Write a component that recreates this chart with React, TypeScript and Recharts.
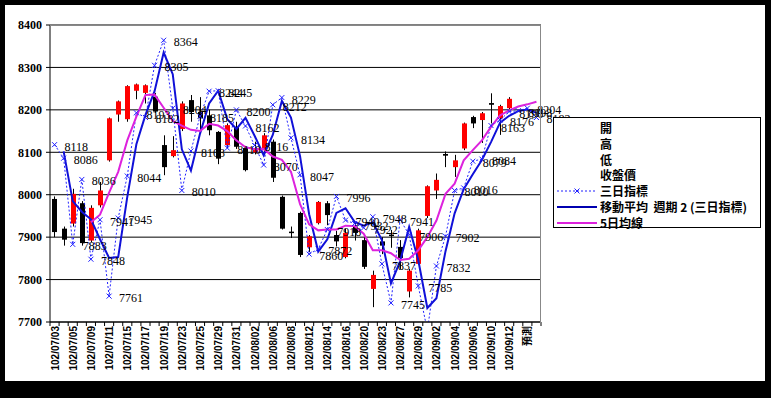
import React from 'react';
import { ComposedChart, Bar, Line, XAxis, YAxis, CartesianGrid, LabelList } from 'recharts';

const dates = [
  '102/07/03', '102/07/04', '102/07/05', '102/07/08', '102/07/09', '102/07/10', '102/07/11', '102/07/12',
  '102/07/15', '102/07/16', '102/07/17', '102/07/18', '102/07/19', '102/07/22', '102/07/23', '102/07/24',
  '102/07/25', '102/07/26', '102/07/29', '102/07/30', '102/07/31', '102/08/01', '102/08/02', '102/08/05',
  '102/08/06', '102/08/07', '102/08/08', '102/08/09', '102/08/12', '102/08/13', '102/08/14', '102/08/15',
  '102/08/16', '102/08/19', '102/08/20', '102/08/22', '102/08/23', '102/08/26', '102/08/27', '102/08/28',
  '102/08/29', '102/08/30', '102/09/02', '102/09/03', '102/09/04', '102/09/05', '102/09/06', '102/09/09',
  '102/09/10', '102/09/11', '102/09/12', '102/09/13', '預測', '',
];

const opens = [
  7990, 7920, 7932, 7980, 7892, 7975, 8081, 8189, 8178, 8245, 8240, 8231, 8117, 8091, 8155, 8223,
  8195, 8187, 8148, 8117, 8160, 8110, 8100, 8110, 8125, 7995, 7913, 7957, 7876, 7933, 7980, 7905,
  7853, 7925, 7893, 7778, 7890, 7906, 7877, 7772, 7837, 7950, 8010, 8096, 8065, 8109, 8183, 8176,
  8216, 8180, 8204, null, null, null,
];
const highs = [
  7996, 7925, 8014, 7985, 7975, 8030, 8182, 8222, 8258, 8262, 8260, 8240, 8140, 8138, 8220, 8235,
  8230, 8200, 8150, 8168, 8172, 8115, 8125, 8145, 8130, 7998, 7925, 7960, 7905, 7985, 7985, 7915,
  7920, 7935, 7900, 7821, 7900, 7917, 7893, 7825, 7920, 8022, 8050, 8102, 8094, 8170, 8186, 8195,
  8239, 8212, 8230, null, null, null,
];
const lows = [
  7900, 7880, 7925, 7880, 7888, 7970, 8078, 8172, 8172, 8225, 8215, 8193, 8046, 8088, 8150, 8172,
  8150, 8140, 8072, 8110, 8108, 8055, 8095, 8100, 8030, 7918, 7898, 7853, 7865, 7930, 7928, 7878,
  7850, 7892, 7825, 7735, 7860, 7875, 7825, 7758, 7835, 7945, 7990, 8065, 8042, 8105, 8157, 8122,
  8168, 8141, 8200, null, null, null,
];
const closes = [
  7912, 7894, 8002, 7886, 7969, 8010, 8180, 8220, 8256, 8260, 8258, 8196, 8065, 8105, 8215, 8195,
  8180, 8152, 8085, 8164, 8113, 8058, 8110, 8140, 8040, 7920, 7911, 7858, 7902, 7983, 7952, 7890,
  7910, 7910, 7830, 7811, 7880, 7903, 7851, 7821, 7916, 8020, 8035, 8092, 8081, 8168, 8168, 8192,
  8212, 8209, 8226, null, null, null,
];

// 三日指標
const tri = [
  8118, 8086, 7883, 8036, 7848, 7941, 7761, 7945, 8044, 8193, 8182, 8305, 8364, 8204, 8010, 8103,
  8185, 8244, 8245, 8110, 8200, 8162, 8116, 8070, 8212, 8229, 8134, 8047, 7860, 7872, 7918, 7996,
  7940, 7932, 7922, 7948, 7837, 7745, 7941, 7906, 7785, 7680, 7832, 7902, 8010, 8016, 8079, 8084,
  8163, 8176, 8196, 8198, 8204, 8182,
];

// 移動平均 週期 2 (三日指標)
const ma2 = [
  null, 8102, 7985, 7960, 7942, 7895, 7851, 7853, 7995, 8119, 8188, 8244, 8335, 8284, 8107, 8057,
  8144, 8215, 8245, 8178, 8155, 8181, 8139, 8093, 8141, 8221, 8182, 8091, 7954, 7866, 7895, 7957,
  7968, 7936, 7927, 7935, 7893, 7791, 7843, 7924, 7846, 7733, 7756, 7867, 7956, 8013, 8048, 8082,
  8124, 8170, 8186, 8197, 8201, 8193,
];

// 5日均線
const ma5 = [
  null, null, null, null, 7935, 7953, 8005, 8054, 8128, 8184, 8235, 8236, 8205, 8174, 8163, 8153,
  8150, 8167, 8163, 8150, 8128, 8112, 8107, 8108, 8090, 8082, 8054, 7978, 7930, 7916, 7918, 7918,
  7927, 7926, 7908, 7869, 7869, 7862, 7846, 7849, 7869, 7900, 7939, 8002, 8026, 8081, 8105, 8128,
  8160, 8187, 8199, 8208, 8213, 8219,
];

const yTicks = [7700, 7800, 7900, 8000, 8100, 8200, 8300, 8400];

const data = dates.map((date, i) => ({
  date,
  open: opens[i],
  high: highs[i],
  low: lows[i],
  close: closes[i],
  range: opens[i] == null ? null : [lows[i], highs[i]],
  tri: tri[i],
  ma2: ma2[i],
  ma5: ma5[i],
}));

const BAND = 491 / dates.length;

function Candle(props: any) {
  const { x, width, payload } = props;
  let { y, height } = props;
  if (!payload || payload.open == null) return null;
  if (height < 0) {
    y = y + height;
    height = -height;
  }
  const { open, high, low, close } = payload;
  const toY = (v: number) => y + ((high - v) / (high - low)) * height;
  const cx = Math.round(x + width / 2) + 0.5;
  const up = close > open;
  const top = toY(Math.max(open, close));
  const bot = toY(Math.min(open, close));
  return (
    <g>
      <line x1={cx} x2={cx} y1={y} y2={y + height} stroke="#000" strokeWidth={1} />
      <rect x={cx - 2.5} y={top} width={5} height={Math.max(bot - top, 1.5)} fill={up ? '#ff0000' : '#000'} />
    </g>
  );
}

function XMark(props: any) {
  const { cx, cy, value } = props;
  if (cx == null || cy == null || value == null || value < 7700) return null;
  return (
    <g stroke="#2020ff" strokeWidth={1}>
      <line x1={cx - 2.5} y1={cy - 2.5} x2={cx + 2.5} y2={cy + 2.5} />
      <line x1={cx - 2.5} y1={cy + 2.5} x2={cx + 2.5} y2={cy - 2.5} />
    </g>
  );
}

function triLabel(props: any) {
  const { x, y, value } = props;
  if (value == null || value < 7700) return null;
  return (
    <text x={x + 10} y={y + 6} fontSize={12} fontFamily="'Liberation Serif', serif" fill="#000">
      {value}
    </text>
  );
}

function DateTick(props: any) {
  const { x, y, payload, index } = props;
  const label = payload.value;
  const left = x - BAND / 2;
  return (
    <g>
      <line x1={left} x2={left} y1={y} y2={y + 4} stroke="#000" />
      {index === dates.length - 1 ? (
        <line x1={x + BAND / 2} x2={x + BAND / 2} y1={y} y2={y + 4} stroke="#000" />
      ) : null}
      {index % 2 === 0 && label ? (
        <text
          transform={`translate(${x + 4}, ${y + 4}) rotate(-90)`}
          textAnchor="end"
          fontSize={10}
          fontWeight="bold"
          fontFamily="'Liberation Sans', 'Noto Sans CJK TC', sans-serif"
          fill="#000"
        >
          {label}
        </text>
      ) : null}
    </g>
  );
}

const legendRows: { label: string; kind: string }[] = [
  { label: '開', kind: 'none' },
  { label: '高', kind: 'none' },
  { label: '低', kind: 'none' },
  { label: '收盤價', kind: 'none' },
  { label: '三日指標', kind: 'tri' },
  { label: '移動平均  週期 2 (三日指標)', kind: 'ma2' },
  { label: '5日均線', kind: 'ma5' },
];

function ChartLegend() {
  return (
    <div
      style={{
        position: 'absolute',
        left: 553,
        top: 117,
        width: 206,
        height: 109,
        border: '1px solid #000',
        background: '#fff',
        fontFamily: "'Noto Sans CJK TC', sans-serif",
        fontSize: 12,
        fontWeight: 'bold',
        color: '#000',
      }}
    >
      {legendRows.map((r, i) => (
        <div
          key={r.label}
          style={{ position: 'absolute', left: 0, top: 2 + i * 15.8, height: 16, display: 'flex', alignItems: 'center' }}
        >
          <svg width={46} height={16} style={{ display: 'block' }}>
            {r.kind === 'tri' ? (
              <g>
                <line x1={3} x2={43} y1={8} y2={8} stroke="#2020ff" strokeDasharray="2 2" />
                <XMark cx={23} cy={8} value={8000} />
              </g>
            ) : null}
            {r.kind === 'ma2' ? <line x1={3} x2={43} y1={8} y2={8} stroke="#0000b0" strokeWidth={2} /> : null}
            {r.kind === 'ma5' ? <line x1={3} x2={43} y1={8} y2={8} stroke="#dd22dd" strokeWidth={2} /> : null}
          </svg>
          <span style={{ whiteSpace: 'pre', lineHeight: '16px' }}>{r.label}</span>
        </div>
      ))}
    </div>
  );
}

export default function App() {
  return (
    <div style={{ position: 'absolute', left: 0, top: 0, width: 771, height: 398, background: '#000' }}>
      <div style={{ position: 'absolute', left: 5, top: 5, width: 760, height: 376, background: '#fff' }} />
      <div style={{ position: 'absolute', left: 0, top: 0 }}>
        <ComposedChart
          width={771}
          height={398}
          data={data}
          margin={{ top: 25, right: 230, bottom: 0, left: 10 }}
        >
          <CartesianGrid vertical={false} stroke="#000" strokeOpacity={1} />
          <XAxis
            dataKey="date"
            interval={0}
            tickLine={false}
            tickSize={0}
            tickMargin={0}
            height={76}
            stroke="#000"
            tick={<DateTick />}
          />
          <YAxis
            domain={[7700, 8400]}
            ticks={yTicks}
            allowDataOverflow
            width={40}
            tickSize={4}
            tickMargin={4}
            stroke="#000"
            tick={{ fontSize: 12, fontWeight: 'bold', fontFamily: "'Liberation Serif', serif", fill: '#000' }}
          />
          <Bar dataKey="range" shape={<Candle />} isAnimationActive={false} barSize={5} />
          <Line
            dataKey="tri"
            type="linear"
            stroke="#2020ff"
            strokeWidth={1}
            strokeDasharray="2 2"
            dot={<XMark />}
            activeDot={false}
            isAnimationActive={false}
          >
            <LabelList dataKey="tri" content={triLabel} />
          </Line>
          <Line
            dataKey="ma2"
            type="linear"
            stroke="#1010d8"
            strokeWidth={2}
            dot={false}
            activeDot={false}
            isAnimationActive={false}
          />
          <Line
            dataKey="ma5"
            type="linear"
            stroke="#dd22dd"
            strokeWidth={2}
            dot={false}
            activeDot={false}
            isAnimationActive={false}
          />
        </ComposedChart>
      </div>
      <div
        style={{
          position: 'absolute',
          left: 50,
          top: 25,
          width: 490,
          height: 297,
          borderTop: '1px solid #888',
          borderRight: '1px solid #888',
          pointerEvents: 'none',
        }}
      />
      <ChartLegend />
    </div>
  );
}
